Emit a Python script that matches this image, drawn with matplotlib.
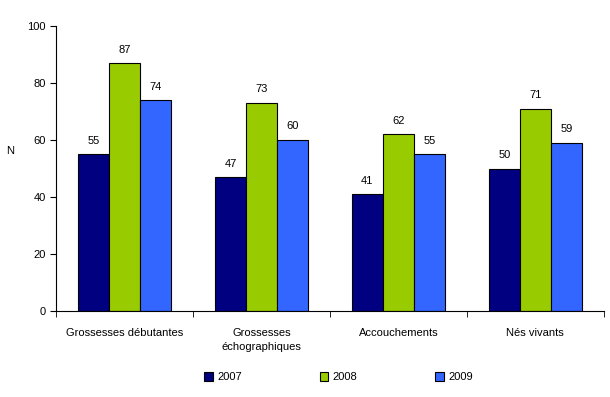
import matplotlib.pyplot as plt
import numpy as np

plt.rcParams['font.family'] = ['Liberation Sans', 'DejaVu Sans']

categories = ['Grossesses débutantes', 'Grossesses\néchographiques', 'Accouchements', 'Nés vivants']
years = ['2007', '2008', '2009']
values_2007 = [55, 47, 41, 50]
values_2008 = [87, 73, 62, 71]
values_2009 = [74, 60, 55, 59]
colors = ['#000080', '#99CC00', '#3366FF']

fig = plt.figure(figsize=(6.1, 3.97), dpi=100)
ax = fig.add_axes([0.0918, 0.2166, 0.898, 0.7179])

x = np.arange(len(categories))
w = 0.226
series = [values_2007, values_2008, values_2009]
for i, (vals, col, lab) in enumerate(zip(series, colors, years)):
    pos = x + (i - 1) * w
    bars = ax.bar(pos, vals, w, color=col, edgecolor='black', linewidth=0.8, label=lab)
    for b, v in zip(bars, vals):
        ax.text(b.get_x() + b.get_width() / 2, v + 3, str(v), ha='center', va='bottom', fontsize=8)

ax.set_xlim(-0.5, len(categories) - 0.5)
ax.set_ylim(0, 100)
ax.set_yticks(range(0, 101, 20))
ax.set_xticks(x)
ax.set_xticklabels(categories, fontsize=8, linespacing=1.6)
ax.tick_params(axis='x', length=0, pad=12)
ax.set_xticks(np.arange(-0.5, len(categories), 1), minor=True)
ax.tick_params(axis='x', which='minor', length=4, direction='out')
ax.tick_params(axis='y', labelsize=8, length=4, direction='out')
ax.spines['top'].set_visible(False)
ax.spines['right'].set_visible(False)
ax.set_ylabel('N', rotation=0, fontsize=8, va='center', ha='center')
ax.yaxis.set_label_coords(-0.084, 0.56)

fig.legend(loc='center', bbox_to_anchor=(0.555, 0.05), ncol=3, frameon=False, fontsize=8,
           handlelength=0.8, handleheight=0.8, columnspacing=7, handletextpad=0.4)

fig.savefig('out.png', dpi=100)
